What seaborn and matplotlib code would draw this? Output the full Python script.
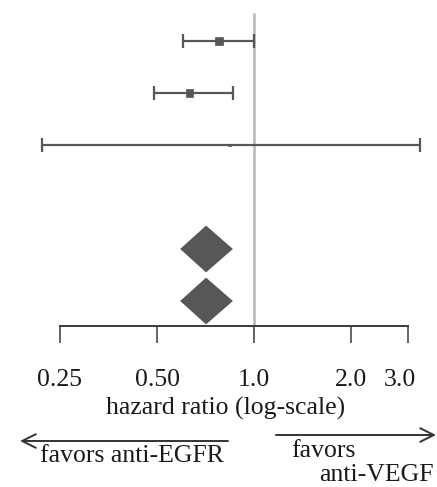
import numpy as np
import pandas as pd
import matplotlib
matplotlib.use("Agg")
import matplotlib.pyplot as plt
import matplotlib.transforms as mtransforms
import seaborn as sns

# Study-level estimates (rows 0-2) and pooled estimates (rows 4-5)
study_rows = [0, 1, 2]
study_hr = [0.78, 0.63, 0.84]
study_lo = [0.60, 0.49, 0.22]
study_hi = [1.00, 0.86, 3.27]
study_size = [30, 30, 4]

pooled_rows = [4, 5]
pooled_hr = [0.71, 0.71]
pooled_lo = [0.59, 0.59]
pooled_hi = [0.86, 0.86]

tick_values = [0.25, 0.50, 1.0, 2.0, 3.0]
tick_labels = ["0.25", "0.50", "1.0", "2.0", "3.0"]

sns.set_style("white")
plt.rcParams["font.family"] = ["Liberation Serif", "DejaVu Serif"]

W, H = 437, 487
fig = plt.figure(figsize=(W / 100, H / 100), dpi=100)


def fx(x):
    return x / W


def fy(y):
    return 1 - y / H


axis_y = 326
ax = fig.add_axes([0, fy(axis_y), 1, axis_y / H])
ax.set_xscale("log")
ax.set_xlim(2 ** (-254 / 97), 2 ** ((W - 254) / 97))
ax.set_ylim(285 / 52, -41 / 52)

mark = "#575757"

# reference line at HR = 1
ax.vlines(1.0, -0.54, 285 / 52, color="#bdbdbd", lw=2.0, zorder=1)

studies = pd.DataFrame({"row": study_rows, "hr": study_hr,
                        "lo": study_lo, "hi": study_hi, "size": study_size})
ax.errorbar(studies["hr"], studies["row"],
            xerr=[studies["hr"] - studies["lo"], studies["hi"] - studies["hr"]],
            fmt="none", ecolor=mark, elinewidth=1.6, capsize=4.8,
            capthick=1.6, zorder=2)
sns.scatterplot(data=studies, x="hr", y="row", marker="s", size="size",
                sizes=(4, 30), color=mark, edgecolor=mark, linewidth=0.5,
                legend=False, ax=ax, zorder=3)

# pooled diamonds
half = 0.45
for r, h, lo, hi in zip(pooled_rows, pooled_hr, pooled_lo, pooled_hi):
    ax.fill([lo, h, hi, h], [r, r - half, r, r + half],
            color=mark, lw=0, zorder=3)

for s in ["top", "left", "right"]:
    ax.spines[s].set_visible(False)
ax.spines["bottom"].set_bounds(0.25, 3.0)
ax.spines["bottom"].set_color("#3a3a3a")
ax.spines["bottom"].set_linewidth(1.4)
ax.set_yticks([])
ax.set_xticks(tick_values)
ax.set_xticklabels(tick_labels)
ax.xaxis.set_minor_locator(matplotlib.ticker.NullLocator())
ax.tick_params(axis="x", bottom=True, direction="out", length=12.2,
               width=1.1, color="#3a3a3a", pad=19, labelsize=18.5,
               labelcolor="#1a1a1a")
ax.set_xlabel("")
ax.set_ylabel("")

# nudge the last tick label inwards so it sits clear of the right edge
last = ax.get_xticklabels()[-1]
last.set_transform(last.get_transform()
                   + mtransforms.ScaledTranslation(-0.08, 0, fig.dpi_scale_trans))

txt = dict(color="#1a1a1a", fontsize=18.5)
fig.text(fx(226), fy(415), "hazard ratio (log-scale)", ha="center",
         va="baseline", **txt)
fig.text(fx(40), fy(462), "favors anti-EGFR", ha="left", va="baseline", **txt)
fig.text(fx(291), fy(457), "favors", ha="left", va="baseline", **txt)
fig.text(fx(434), fy(481), "anti-VEGF", ha="right", va="baseline", **txt)

arrow = dict(arrowstyle="->,head_length=0.7,head_width=0.35",
             color="#333333", lw=1.4, shrinkA=0, shrinkB=0,
             mutation_scale=14)
fig.add_artist(matplotlib.patches.FancyArrowPatch(
    (fx(228), fy(441)), (fx(20), fy(441)), transform=fig.transFigure, **arrow))
fig.add_artist(matplotlib.patches.FancyArrowPatch(
    (fx(276), fy(435)), (fx(436), fy(435)), transform=fig.transFigure, **arrow))

fig.savefig("out.png", dpi=100)
